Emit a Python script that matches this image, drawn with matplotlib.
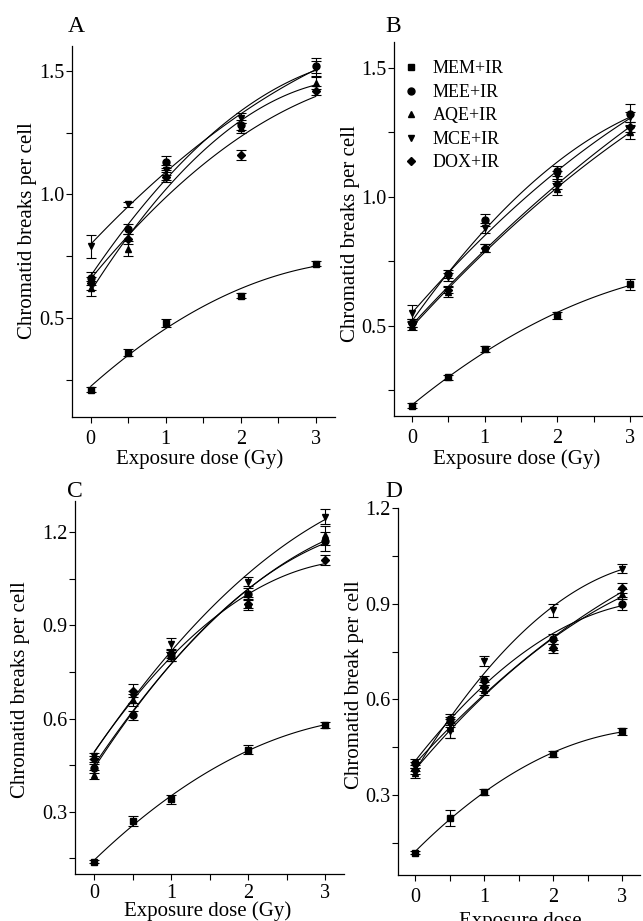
#!/usr/bin/env python3
"""Chromatid breaks per cell vs. exposure dose, four cell lines (A-D)."""
import matplotlib
matplotlib.use("Agg")
import matplotlib.pyplot as plt
import numpy as np
from matplotlib.ticker import MultipleLocator

W, H = 643, 921

dose = [0, 0.5, 1, 2, 3]
treatments = ["MEM+IR", "MEE+IR", "AQE+IR", "MCE+IR", "DOX+IR"]
markers = ["s", "o", "^", "v", "D"]

# rows follow `treatments`, columns follow `dose`
breaks_a = [
    [0.21, 0.36, 0.48, 0.59, 0.72],
    [0.66, 0.86, 1.13, 1.28, 1.52],
    [0.62, 0.78, 1.08, 1.27, 1.45],
    [0.79, 0.96, 1.10, 1.31, 1.51],
    [0.64, 0.82, 1.07, 1.16, 1.42],
]
err_a = [
    [0.01, 0.015, 0.015, 0.01, 0.01],
    [0.025, 0.02, 0.025, 0.02, 0.03],
    [0.03, 0.03, 0.02, 0.02, 0.025],
    [0.047, 0.01, 0.02, 0.02, 0.03],
    [0.025, 0.02, 0.02, 0.02, 0.02],
]

breaks_b = [
    [0.19, 0.30, 0.41, 0.54, 0.66],
    [0.51, 0.70, 0.91, 1.10, 1.32],
    [0.50, 0.63, 0.80, 1.03, 1.25],
    [0.55, 0.69, 0.88, 1.08, 1.31],
    [0.51, 0.64, 0.80, 1.05, 1.27],
]
err_b = [
    [0.01, 0.01, 0.01, 0.015, 0.02],
    [0.015, 0.015, 0.025, 0.02, 0.04],
    [0.015, 0.02, 0.015, 0.025, 0.025],
    [0.03, 0.015, 0.02, 0.02, 0.02],
    [0.015, 0.015, 0.015, 0.02, 0.02],
]

breaks_c = [
    [0.14, 0.27, 0.34, 0.50, 0.58],
    [0.44, 0.61, 0.80, 1.00, 1.17],
    [0.42, 0.66, 0.80, 0.97, 1.19],
    [0.48, 0.67, 0.84, 1.04, 1.25],
    [0.47, 0.69, 0.81, 0.97, 1.11],
]
err_c = [
    [0.005, 0.015, 0.015, 0.015, 0.01],
    [0.015, 0.015, 0.015, 0.02, 0.03],
    [0.015, 0.02, 0.015, 0.02, 0.03],
    [0.01, 0.02, 0.02, 0.015, 0.025],
    [0.01, 0.02, 0.015, 0.015, 0.015],
]

breaks_d = [
    [0.12, 0.23, 0.31, 0.43, 0.50],
    [0.40, 0.54, 0.66, 0.79, 0.90],
    [0.37, 0.51, 0.63, 0.77, 0.93],
    [0.39, 0.50, 0.72, 0.88, 1.01],
    [0.38, 0.53, 0.64, 0.76, 0.95],
]
err_d = [
    [0.005, 0.025, 0.01, 0.01, 0.01],
    [0.015, 0.015, 0.015, 0.015, 0.02],
    [0.015, 0.03, 0.015, 0.015, 0.015],
    [0.015, 0.02, 0.015, 0.02, 0.015],
    [0.015, 0.015, 0.015, 0.015, 0.015],
]

plt.rcParams.update(
    {
        "font.family": ["Liberation Serif", "DejaVu Serif"],
        "mathtext.fontset": "stix",
        "axes.linewidth": 0.9,
        "xtick.labelsize": 14.5,
        "ytick.labelsize": 14.5,
        "axes.labelsize": 15,
    }
)


def add_panel(fig, left, top, right, bottom):
    return fig.add_axes([left / W, 1 - bottom / H, (right - left) / W, (bottom - top) / H])


def draw_panel(ax, means, errs, ylim, ymajor, yminor, xpad=5):
    x = np.array(dose, dtype=float)
    xs = np.linspace(0, 3, 120)
    handles = []
    for row, err, mk in zip(means, errs, markers):
        y = np.array(row, dtype=float)
        coef = np.polyfit(x, y, 2)
        ax.plot(xs, np.polyval(coef, xs), color="black", lw=0.8, zorder=2)
        ax.errorbar(x, y, yerr=err, fmt="none", ecolor="black", elinewidth=0.8,
                    capsize=3.6, capthick=0.8, zorder=3)
        ms = 4.2 if mk == "D" else 5
        (h,) = ax.plot(x, y, linestyle="none", marker=mk, ms=ms, color="black", zorder=4)
        handles.append(h)
    ax.set_xlim(-0.25, 3.25)
    ax.set_ylim(*ylim)
    ax.xaxis.set_major_locator(MultipleLocator(1))
    ax.xaxis.set_minor_locator(MultipleLocator(0.5))
    ax.yaxis.set_major_locator(MultipleLocator(ymajor))
    ax.yaxis.set_minor_locator(MultipleLocator(yminor))
    ax.tick_params(which="both", direction="out", length=4, width=0.8)
    ax.tick_params(axis="y", pad=1.5)
    ax.tick_params(axis="x", pad=xpad)
    for side in ("top", "right"):
        ax.spines[side].set_visible(False)
    return handles


def place_labels(ax, box, xlabel, xpos, ylabel, ypos):
    left, top, right, bottom = box
    ax.set_xlabel(xlabel, va="center")
    ax.xaxis.set_label_coords((xpos[0] - left) / (right - left), (bottom - xpos[1]) / (bottom - top))
    ax.set_ylabel(ylabel, va="center")
    ax.yaxis.set_label_coords((ypos[0] - left) / (right - left), (bottom - ypos[1]) / (bottom - top))


fig = plt.figure(figsize=(W / 100, H / 100), dpi=100)

box_a = (72, 46, 334.5, 417)
box_b = (394, 42, 648, 416)
box_c = (75, 501, 344.5, 874)
box_d = (398, 508, 639.5, 875)

ax_a = add_panel(fig, *box_a)
draw_panel(ax_a, breaks_a, err_a, (0.1, 1.6), 0.5, 0.25)
place_labels(ax_a, box_a, "Exposure dose (Gy)", (200, 459), "Chromatid breaks per cell", (28, 231))

ax_b = add_panel(fig, *box_b)
handles = draw_panel(ax_b, breaks_b, err_b, (0.15, 1.6), 0.5, 0.25)
place_labels(ax_b, box_b, "Exposure dose (Gy)", (517, 459), "Chromatid breaks per cell", (350, 234))
ax_b.legend(handles, treatments, loc="upper left", bbox_to_anchor=(0.01, 0.97), frameon=False,
            fontsize=13, handlelength=0.8, handletextpad=0.8, labelspacing=0.36,
            borderaxespad=0.0)

ax_c = add_panel(fig, *box_c)
draw_panel(ax_c, breaks_c, err_c, (0.1, 1.3), 0.3, 0.15, xpad=3.5)
place_labels(ax_c, box_c, "Exposure dose (Gy)", (208, 911), "Chromatid breaks per cell", (20, 690))

ax_d = add_panel(fig, *box_d)
draw_panel(ax_d, breaks_d, err_d, (0.05, 1.2), 0.3, 0.15)
place_labels(ax_d, box_d, "Exposure dose", (520, 921), "Chromatid break per cell", (355, 685))

for letter, (px, py) in zip("ABCD", [(68, 32), (385, 32), (67, 497), (385, 497)]):
    fig.text(px / W, 1 - py / H, letter, fontsize=17, ha="left", va="baseline")

fig.savefig("out.png", dpi=100)
plt.close(fig)
